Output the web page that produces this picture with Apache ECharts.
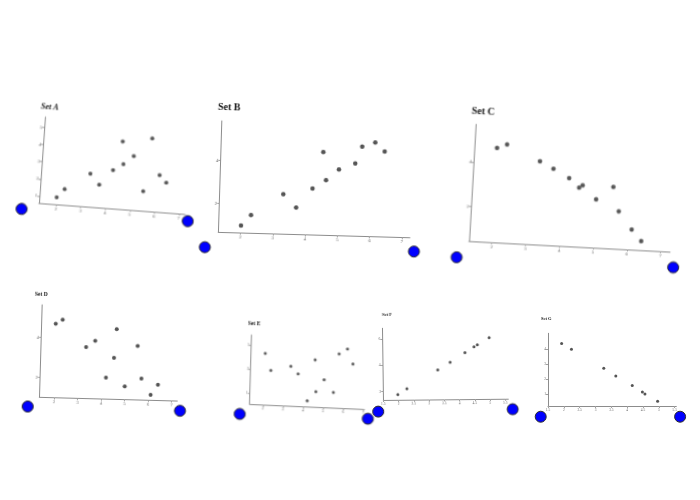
<!DOCTYPE html>
<html>
<head>
<meta charset="utf-8">
<script src="https://cdn.jsdelivr.net/npm/echarts@6/dist/echarts.min.js"></script>
<style>
  html, body { margin: 0; padding: 0; background: #fff; }
  #wrap { position: relative; width: 700px; height: 500px; overflow: hidden; }
  .panel { position: absolute; left: 0; top: 0; width: 700px; height: 500px; }
</style>
</head>
<body>
<div id="wrap"></div>
<script>
// values, one pair of arrays per set
var setAX = [2.00, 2.30, 3.30, 3.69, 4.21, 4.52, 4.61, 5.01, 5.49, 5.71, 6.11, 6.40]
var setAY = [1.01, 1.52, 2.52, 1.92, 2.83, 4.53, 3.22, 3.73, 1.73, 4.83, 2.73, 2.33]

var setBX = [2.01, 2.31, 3.29, 3.70, 4.19, 4.49, 4.60, 4.99, 5.49, 5.69, 6.09, 6.39]
var setBY = [0.98, 1.49, 2.51, 1.90, 2.81, 4.53, 3.22, 3.74, 4.04, 4.84, 5.05, 4.64]

var setCX = [2.00, 2.29, 3.29, 3.70, 4.18, 4.49, 4.59, 5.01, 5.50, 5.70, 6.11, 6.41]
var setCY = [4.69, 4.87, 4.19, 3.89, 3.50, 3.10, 3.21, 2.62, 3.21, 2.13, 1.34, 0.85]

var setDX = [1.98, 2.27, 3.30, 3.68, 4.18, 4.50, 4.58, 4.99, 5.49, 5.69, 6.10, 6.40]
var setDY = [4.69, 4.89, 3.57, 3.89, 2.09, 3.07, 4.50, 1.67, 3.69, 2.09, 1.29, 1.80]

var setEX = [2.05, 2.35, 3.34, 3.71, 4.20, 4.54, 4.62, 5.01, 5.49, 5.72, 6.13, 6.42]
var setEY = [4.37, 2.98, 3.39, 2.78, 0.60, 4.00, 1.38, 2.40, 1.39, 4.58, 5.03, 3.81]

var setFX = [1.98, 2.28, 3.30, 3.71, 4.20, 4.50, 4.61, 5.00]
var setFY = [1.76, 2.21, 3.60, 4.17, 4.89, 5.32, 5.47, 6.01]

var setGX = [1.93, 2.24, 3.26, 3.64, 4.16, 4.48, 4.56, 4.96]
var setGY = [4.38, 4.00, 2.72, 2.21, 1.56, 1.13, 1.00, 0.51]

// tick labels
var ticksWhole = [2, 3, 4, 5, 6, 7]
var ticksHalf = [1.5, 2, 2.5, 3, 3.5, 4, 4.5, 5, 5.5]
var ticksAY = [1, 2, 3, 4, 5]
var ticksEvenY = [2, 4]
var ticksEY = [1, 3, 5]
var ticksFY = [2, 4, 6]
var ticksGY = [1, 2, 3, 4]

// layout of every little plot: axis corner, axis lengths and the tilt of the photo
var panels = [
  { name: 'Set A', xs: setAX, ys: setAY, xt: ticksWhole, yt: ticksAY,
    cx: 39, cy: 203, lx: 146, ly: 86, tx: -0.0698, ty: 0.0753,
    xMin: 1.3, xMax: 7.25, yMin: 0.6, yMax: 5.6,
    tl: 41, tm: 107, fs: 8, italic: true, lab: 5, dot: 4,
    marks: [[0.61, 0.18], [7.38, 0.2]] },
  { name: 'Set B', xs: setBX, ys: setBY, xt: ticksWhole, yt: ticksEvenY,
    cx: 218.3, cy: 232.3, lx: 191.7, ly: 111.3, tx: -0.0305, ty: 0.028,
    xMin: 1.31, xMax: 7.25, yMin: 0.64, yMax: 5.86,
    tl: 218, tm: 108.5, fs: 10, lab: 5, dot: 4.5,
    marks: [[0.91, -0.08], [7.39, -0.01]] },
  { name: 'Set C', xs: setCX, ys: setCY, xt: ticksWhole, yt: ticksEvenY,
    cx: 469, cy: 241, lx: 201, ly: 116.7, tx: -0.057, ty: 0.053,
    xMin: 1.33, xMax: 7.28, yMin: 0.44, yMax: 5.7,
    tl: 471.5, tm: 112, fs: 10, lab: 5, dot: 4.5,
    marks: [[0.99, -0.32], [7.40, -0.26]] },
  { name: 'Set D', xs: setDX, ys: setDY, xt: ticksWhole, yt: ticksEvenY,
    cx: 39.3, cy: 397.3, lx: 138, ly: 92.3, tx: -0.029, ty: 0.027,
    xMin: 1.37, xMax: 7.24, yMin: 1.03, yMax: 5.6,
    tl: 35, tm: 294.3, fs: 5.5, lab: 4.5, dot: 4,
    marks: [[0.89, 0.55], [7.37, 0.54]] },
  { name: 'Set E', xs: setEX, ys: setEY, xt: ticksWhole, yt: ticksEY,
    cx: 249.7, cy: 404, lx: 114.6, ly: 69, tx: -0.029, ty: 0.044,
    xMin: 1.35, xMax: 7.05, yMin: 0.12, yMax: 5.83,
    tl: 248, tm: 324, fs: 5.5, lab: 4, dot: 3,
    marks: [[0.87, -0.74], [7.24, -0.67]] },
  { name: 'Set F', xs: setFX, ys: setFY, xt: ticksHalf, yt: ticksFY,
    cx: 383.3, cy: 400, lx: 125, ly: 71.7, tx: 0.014, ty: -0.01,
    xMin: 1.5, xMax: 5.6, yMin: 1.37, yMax: 6.8,
    tl: 382, tm: 315, fs: 4.5, lab: 3.5, dot: 3,
    marks: [[1.33, 0.49], [5.74, 0.57]] },
  { name: 'Set G', xs: setGX, ys: setGY, xt: ticksHalf, yt: ticksGY,
    cx: 548, cy: 406, lx: 128.3, ly: 72.7, tx: 0, ty: 0,
    xMin: 1.5, xMax: 5.55, yMin: 0.19, yMax: 5.07,
    tl: 541, tm: 319.3, fs: 4.5, lab: 3.5, dot: 3,
    marks: [[1.27, -0.53], [5.67, -0.53]] }
]

function axisBase(min, max, ticks, p) {
  return {
    type: 'value',
    min: min,
    max: max,
    splitLine: { show: false },
    axisLine: { lineStyle: { color: '#8c8c8c', width: 1 } },
    axisTick: { customValues: ticks, length: 2, lineStyle: { color: '#a0a0a0' } },
    axisLabel: { customValues: ticks, fontSize: p.lab, color: '#666',
      margin: 2, fontFamily: 'Liberation Serif' }
  }
}

function makePanel(p) {
  var el = document.createElement('div')
  el.className = 'panel'
  el.style.transformOrigin = p.cx + 'px ' + p.cy + 'px'
  el.style.transform = 'matrix(1,' + p.ty + ',' + p.tx + ',1,0,0)'
  document.getElementById('wrap').appendChild(el)

  // undo the tilt for the title so it lands where it is in the photo
  var det = 1 - p.tx * p.ty
  var u = p.tl - p.cx, v = p.tm - p.cy
  var tLeft = p.cx + (u - p.tx * v) / det
  var tMid = p.cy + (v - p.ty * u) / det

  var pts = p.xs.map(function (x, k) { return [x, p.ys[k]] })

  var chart = echarts.init(el)
  chart.setOption({
    animation: false,
    title: {
      text: p.name,
      left: tLeft,
      top: tMid - p.fs * 0.6,
      padding: 0,
      textStyle: { fontSize: p.fs, fontWeight: 'bold', fontStyle: p.italic ? 'italic' : 'normal',
        fontFamily: 'Liberation Serif', color: '#111' }
    },
    grid: { left: p.cx, top: p.cy - p.ly, width: p.lx, height: p.ly },
    xAxis: axisBase(p.xMin, p.xMax, p.xt, p),
    yAxis: axisBase(p.yMin, p.yMax, p.yt, p),
    series: [
      { type: 'scatter', data: pts, symbolSize: p.dot, silent: true,
        itemStyle: { color: '#555', opacity: 1 } },
      { type: 'scatter', data: p.marks, symbolSize: 11, clip: false, silent: true,
        itemStyle: { color: '#0000ff', borderColor: '#2a2a2a', borderWidth: 1, opacity: 1 } }
    ]
  })
}

panels.forEach(makePanel)
</script>
</body>
</html>
